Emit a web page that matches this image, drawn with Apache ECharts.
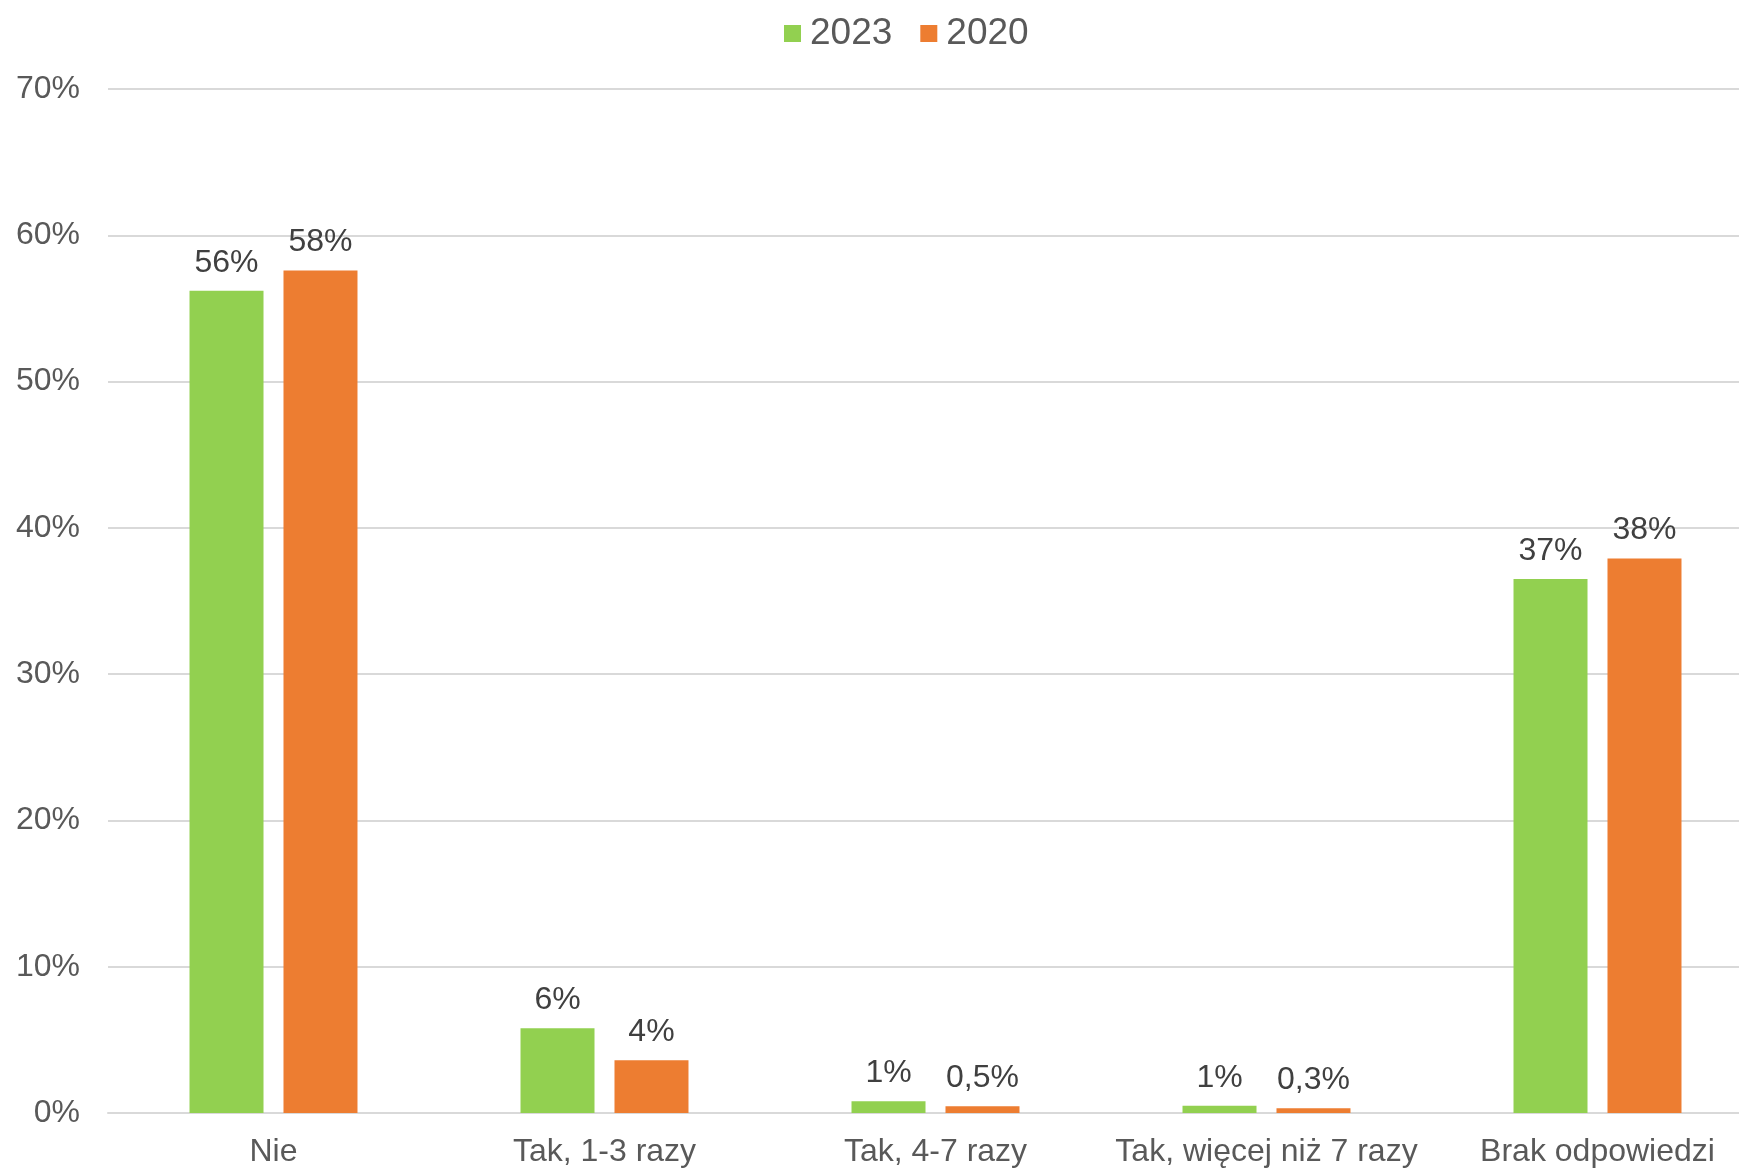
<!DOCTYPE html>
<html><head><meta charset="utf-8">
<script src="https://cdn.jsdelivr.net/npm/echarts@6/dist/echarts.min.js"></script>
<style>html,body{margin:0;padding:0;background:#fff}#c{width:1739px;height:1169px}</style>
</head><body><div id="c"></div>
<script>
const categories = ["Nie", "Tak, 1-3 razy", "Tak, 4-7 razy", "Tak, więcej niż 7 razy", "Brak odpowiedzi"];
const series2023 = [56.2, 5.8, 0.8, 0.5, 36.5];
const series2020 = [57.6, 3.6, 0.46, 0.32, 37.9];
const labels2023 = ["56%", "6%", "1%", "1%", "37%"];
const labels2020 = ["58%", "4%", "0,5%", "0,3%", "38%"];
const yTicks = [0, 10, 20, 30, 40, 50, 60, 70];

const font = "'Liberation Sans', Arial, sans-serif";
const chart = echarts.init(document.getElementById('c'), null, {renderer: 'canvas'});
function mkLabel(arr) {
  return {
    show: true, position: 'top', distance: 12,
    color: '#404040', fontFamily: font, fontSize: 32,
    formatter: p => arr[p.dataIndex]
  };
}
chart.setOption({
  animation: false,
  textStyle: {fontFamily: font},
  legend: {
    top: 10, left: 779,
    itemWidth: 17, itemHeight: 17, itemGap: 28,
    icon: 'rect',
    textStyle: {fontSize: 37, color: '#595959', fontFamily: font, padding: [0, 0, 0, 4]},
    data: ['2023', '2020']
  },
  grid: {left: 108, top: 89, width: 1655, height: 1024, containLabel: false, outerBoundsMode: 'none'},
  xAxis: {
    type: 'category', data: categories,
    axisLine: {lineStyle: {color: '#D9D9D9', width: 2}},
    axisTick: {show: false},
    axisLabel: {color: '#595959', fontSize: 32, fontFamily: font, margin: 23, interval: 0}
  },
  yAxis: {
    type: 'value', min: 0, max: 70, interval: 10,
    axisLine: {show: false}, axisTick: {show: false},
    splitLine: {lineStyle: {color: '#D9D9D9', width: 2}},
    axisLabel: {color: '#595959', fontSize: 32, fontFamily: font, margin: 28,
      formatter: v => yTicks.includes(v) ? v + '%' : ''}
  },
  series: [
    {name: '2023', type: 'bar', data: series2023, barWidth: 74, barGap: '27%',
      itemStyle: {color: '#92D050'}, label: mkLabel(labels2023)},
    {name: '2020', type: 'bar', data: series2020, barWidth: 74, barGap: '27%',
      itemStyle: {color: '#ED7D31'}, label: mkLabel(labels2020)}
  ]
});
</script></body></html>
